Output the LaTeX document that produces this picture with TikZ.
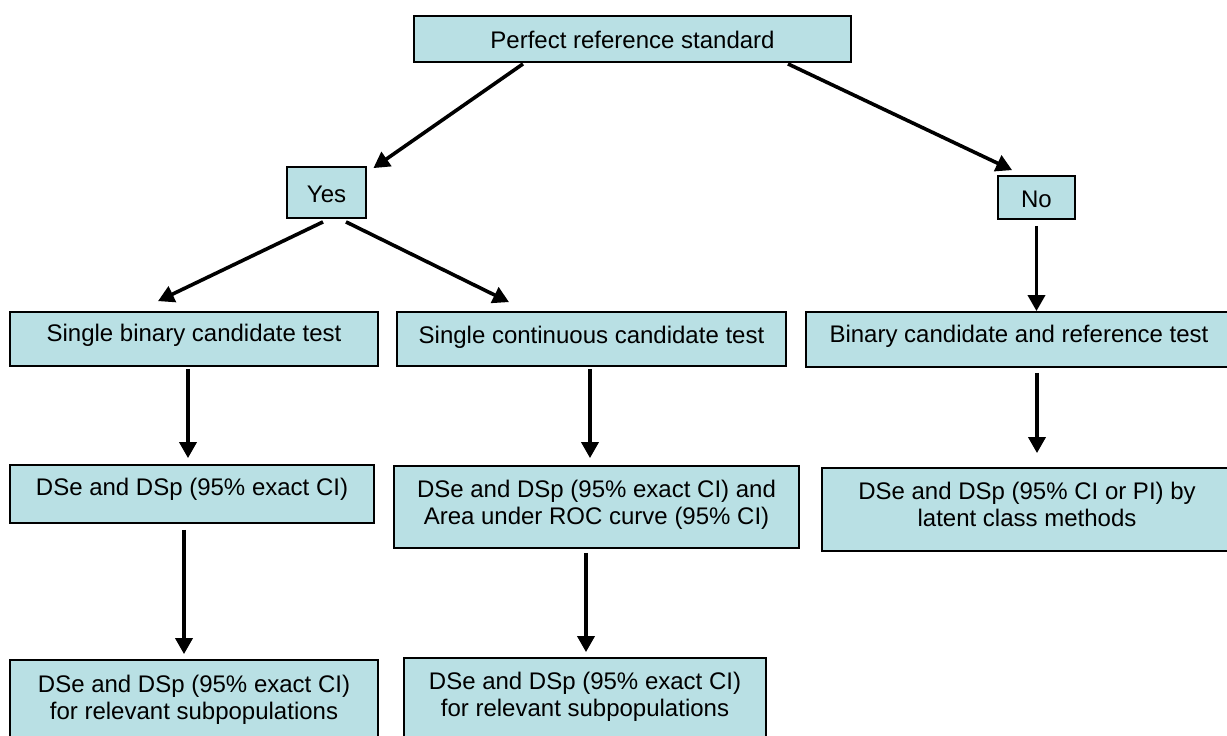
\documentclass[tikz,border=0pt]{standalone}
\usepackage{fontspec}
\setmainfont{Liberation Sans}
\usepackage{tikz}
\usetikzlibrary{arrows.meta, positioning, calc}
\tikzset{every node/.style={font=\fontsize{24}{27}\selectfont}}
\usepackage{xcolor}
\definecolor{boxfill}{HTML}{B9E0E4}

\begin{document}
\begin{tikzpicture}[x=1pt, y=-1pt,
    box/.style={draw, fill=boxfill, line width=1.8pt, inner sep=0pt, align=center},
    txtlow/.style={text height=#1, text depth=0pt},
    arr/.style={-{Triangle[length=16pt, width=17pt]}, line width=3.6pt}]
    \clip (0,0) rectangle (1227,736);
    % decision
    \node[box, minimum width=437pt, minimum height=46pt, txtlow=18pt] (top) at (632.5,39) {Perfect reference standard};
    \node[box, minimum width=79pt, minimum height=51pt, txtlow=19pt] (yes) at (326.5,192.5) {Yes};
    \node[box, minimum width=77pt, minimum height=43pt, txtlow=19pt] (no) at (1036.5,197.5) {No};
    % tests
    \node[box, minimum width=368pt, minimum height=54pt, txtlow=4pt] (sbin) at (194,339) {Single binary candidate test};
    \node[box, minimum width=389pt, minimum height=54pt, txtlow=8pt] (scont) at (591.5,339) {Single continuous candidate test};
    \node[box, minimum width=426pt, minimum height=55pt, txtlow=5pt] (bref) at (1019,339.5) {Binary candidate and reference test};
    % estimates
    \node[box, minimum width=364pt, minimum height=58pt, txtlow=2pt] (dsbin) at (192,494) {DSe and DSp (95\% exact CI)};
    \node[box, minimum width=405pt, minimum height=82pt, txtlow=34pt] (dscont) at (596.5,507) {DSe and DSp (95\% exact CI) and\\Area under ROC curve (95\% CI)};
    \node[box, minimum width=410pt, minimum height=83pt, txtlow=33pt] (latent) at (1027,509.5) {DSe and DSp (95\% CI or PI) by\\latent class methods};
    % subpopulations
    \node[box, minimum width=368pt, minimum height=85pt, txtlow=33pt] (subbin) at (194,702.5) {DSe and DSp (95\% exact CI)\\for relevant subpopulations};
    \node[box, minimum width=362pt, minimum height=87pt, txtlow=29pt] (subcont) at (585,701.5) {DSe and DSp (95\% exact CI)\\for relevant subpopulations};
    % arrows
    \draw[arr] ([xshift=-109.5pt, yshift=-1pt]top.south) -- ([xshift=6.5pt, yshift=-2pt]yes.north east);
    \draw[arr] ([xshift=155.5pt, yshift=-1pt]top.south) -- ([xshift=15pt, yshift=5pt]no.north west);
    \draw[arr] ([xshift=-3.5pt, yshift=-3pt]yes.south) -- ([xshift=-36pt, yshift=10pt]sbin.north);
    \draw[arr] ([xshift=19.5pt, yshift=-3pt]yes.south) -- ([xshift=-82.5pt, yshift=9pt]scont.north);
    \draw[arr] ([yshift=-6pt]no.south) -- (no.south |- bref.north);
    \draw[arr] ([xshift=-6pt, yshift=-2pt]sbin.south) -- ([xshift=-4pt, yshift=6pt]dsbin.north);
    \draw[arr] ([xshift=-8pt, yshift=-6pt]dsbin.south) -- ([xshift=-10pt, yshift=5pt]subbin.north);
    \draw[arr] ([xshift=-1.5pt, yshift=-2pt]scont.south) -- ([xshift=-6.5pt, yshift=7pt]dscont.north);
    \draw[arr] ([xshift=-10.5pt, yshift=-4pt]dscont.south) -- ([xshift=1pt, yshift=5pt]subcont.north);
    \draw[arr] ([xshift=18pt, yshift=-5pt]bref.south) -- ([xshift=10pt, yshift=14pt]latent.north);
\end{tikzpicture}
\end{document}
